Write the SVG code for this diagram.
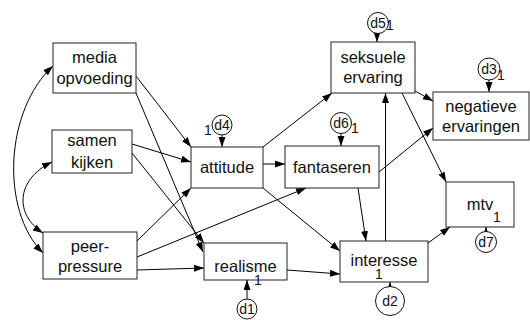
<svg xmlns="http://www.w3.org/2000/svg" width="530" height="320" viewBox="0 0 530 320">
<style>
.box{fill:#fff;stroke:#222;stroke-width:1}
.err{fill:#fff;stroke:#111;stroke-width:1}
.t{font-family:"Liberation Sans",Arial,sans-serif;font-size:16.5px;fill:#111;text-anchor:middle}
.d{font-family:"Liberation Sans",Arial,sans-serif;font-size:14px;fill:#111;text-anchor:middle}
.one{font-family:"Liberation Sans",Arial,sans-serif;font-size:14px;fill:#111;text-anchor:middle}
.c{fill:none;stroke:#000;stroke-width:1;marker-end:url(#ah)}
.bi{marker-start:url(#ah)}
</style>
<defs>
<marker id="ah" markerUnits="userSpaceOnUse" markerWidth="11" markerHeight="8" refX="10" refY="3.5" orient="auto-start-reverse">
<path d="M0,0 L10,3.5 L0,7 z" fill="#000"/>
</marker>
</defs>
<rect width="530" height="320" fill="#fff"/>
<g id="connectors">
<line class="c" x1="136" y1="76" x2="191" y2="147"/>
<line class="c" x1="136" y1="93" x2="203" y2="252"/>
<line class="c" x1="132" y1="144" x2="191" y2="162"/>
<line class="c" x1="132" y1="153" x2="204" y2="243"/>
<line class="c" x1="137" y1="241" x2="191" y2="188"/>
<line class="c" x1="137" y1="257" x2="306" y2="188"/>
<line class="c" x1="137" y1="270" x2="204" y2="268"/>
<line class="c" x1="263" y1="164" x2="285" y2="164"/>
<line class="c" x1="263" y1="147" x2="332" y2="93"/>
<line class="c" x1="263" y1="188" x2="340" y2="251"/>
<line class="c" x1="358" y1="188" x2="366" y2="241"/>
<line class="c" x1="379" y1="172" x2="433" y2="128"/>
<line class="c" x1="415" y1="91" x2="433" y2="101"/>
<line class="c" x1="402" y1="93" x2="446" y2="182"/>
<line class="c" x1="385.5" y1="241" x2="385.5" y2="93"/>
<line class="c" x1="428" y1="243" x2="450" y2="227"/>
<line class="c" x1="287" y1="270" x2="340" y2="274"/>
<line class="c" x1="222" y1="135" x2="222" y2="147"/>
<line class="c" x1="341" y1="133" x2="341" y2="146"/>
<line class="c" x1="377" y1="33" x2="377" y2="42"/>
<line class="c" x1="489" y1="80" x2="489" y2="92"/>
<line class="c" x1="247" y1="299" x2="247" y2="280"/>
<line class="c" x1="390" y1="287" x2="390" y2="282"/>
<line class="c" x1="486" y1="232" x2="486" y2="227"/>
<path class="c bi" d="M53,66 C5,110 0,210 43,253"/>
<path class="c bi" d="M52,162 C15,180 15,215 43,233"/>
</g>
<g id="media-opvoeding">
<rect class="box" x="53" y="43" width="83" height="50"/>
<text class="t" x="94.5" y="62.5">media</text>
<text class="t" x="94.5" y="84">opvoeding</text>
</g>
<g id="samen-kijken">
<rect class="box" x="52" y="130" width="80" height="43"/>
<text class="t" x="92" y="146">samen</text>
<text class="t" x="92" y="168">kijken</text>
</g>
<g id="peer-pressure">
<rect class="box" x="43" y="232" width="94" height="47"/>
<text class="t" x="90" y="252">peer-</text>
<text class="t" x="90" y="272">pressure</text>
</g>
<g id="attitude">
<rect class="box" x="191" y="147" width="72" height="41"/>
<text class="t" x="227" y="173">attitude</text>
</g>
<g id="fantaseren">
<rect class="box" x="285" y="146" width="94" height="42"/>
<text class="t" x="332" y="173">fantaseren</text>
</g>
<g id="realisme">
<rect class="box" x="204" y="243" width="83" height="37"/>
<text class="t" x="245.5" y="272">realisme</text>
<text class="one" x="258" y="285">1</text>
</g>
<g id="interesse">
<rect class="box" x="340" y="241" width="88" height="41"/>
<text class="t" x="384" y="266">interesse</text>
<text class="one" x="379" y="279">1</text>
</g>
<g id="mtv">
<rect class="box" x="446" y="182" width="68" height="45"/>
<text class="t" x="480" y="210">mtv</text>
<text class="one" x="497" y="222">1</text>
</g>
<g id="seksuele-ervaring">
<rect class="box" x="331" y="42" width="84" height="51"/>
<text class="t" x="373" y="63">seksuele</text>
<text class="t" x="373" y="83">ervaring</text>
</g>
<g id="negatieve-ervaringen">
<rect class="box" x="433" y="92" width="96" height="48"/>
<text class="t" x="481" y="112">negatieve</text>
<text class="t" x="481" y="132">ervaringen</text>
</g>
<g id="d4">
<circle class="err" cx="222" cy="125" r="10"/>
<text class="d" x="222" y="130">d4</text>
<text class="one" x="208" y="135">1</text>
</g>
<g id="d6">
<circle class="err" cx="341" cy="123" r="10.5"/>
<text class="d" x="341" y="128">d6</text>
<text class="one" x="355" y="133">1</text>
</g>
<g id="d5">
<circle class="err" cx="378" cy="23" r="10.5"/>
<text class="d" x="378" y="28">d5</text>
<text class="one" x="390" y="30">1</text>
</g>
<g id="d3">
<circle class="err" cx="489" cy="69" r="11"/>
<text class="d" x="489" y="74">d3</text>
<text class="one" x="501" y="80">1</text>
</g>
<g id="d1">
<circle class="err" cx="247" cy="309" r="10"/>
<text class="d" x="247" y="314">d1</text>
</g>
<g id="d2">
<circle class="err" cx="390" cy="301" r="14.5"/>
<text class="d" x="390" y="306">d2</text>
</g>
<g id="d7">
<circle class="err" cx="486" cy="242" r="10.5"/>
<text class="d" x="486" y="247">d7</text>
</g>
</svg>
